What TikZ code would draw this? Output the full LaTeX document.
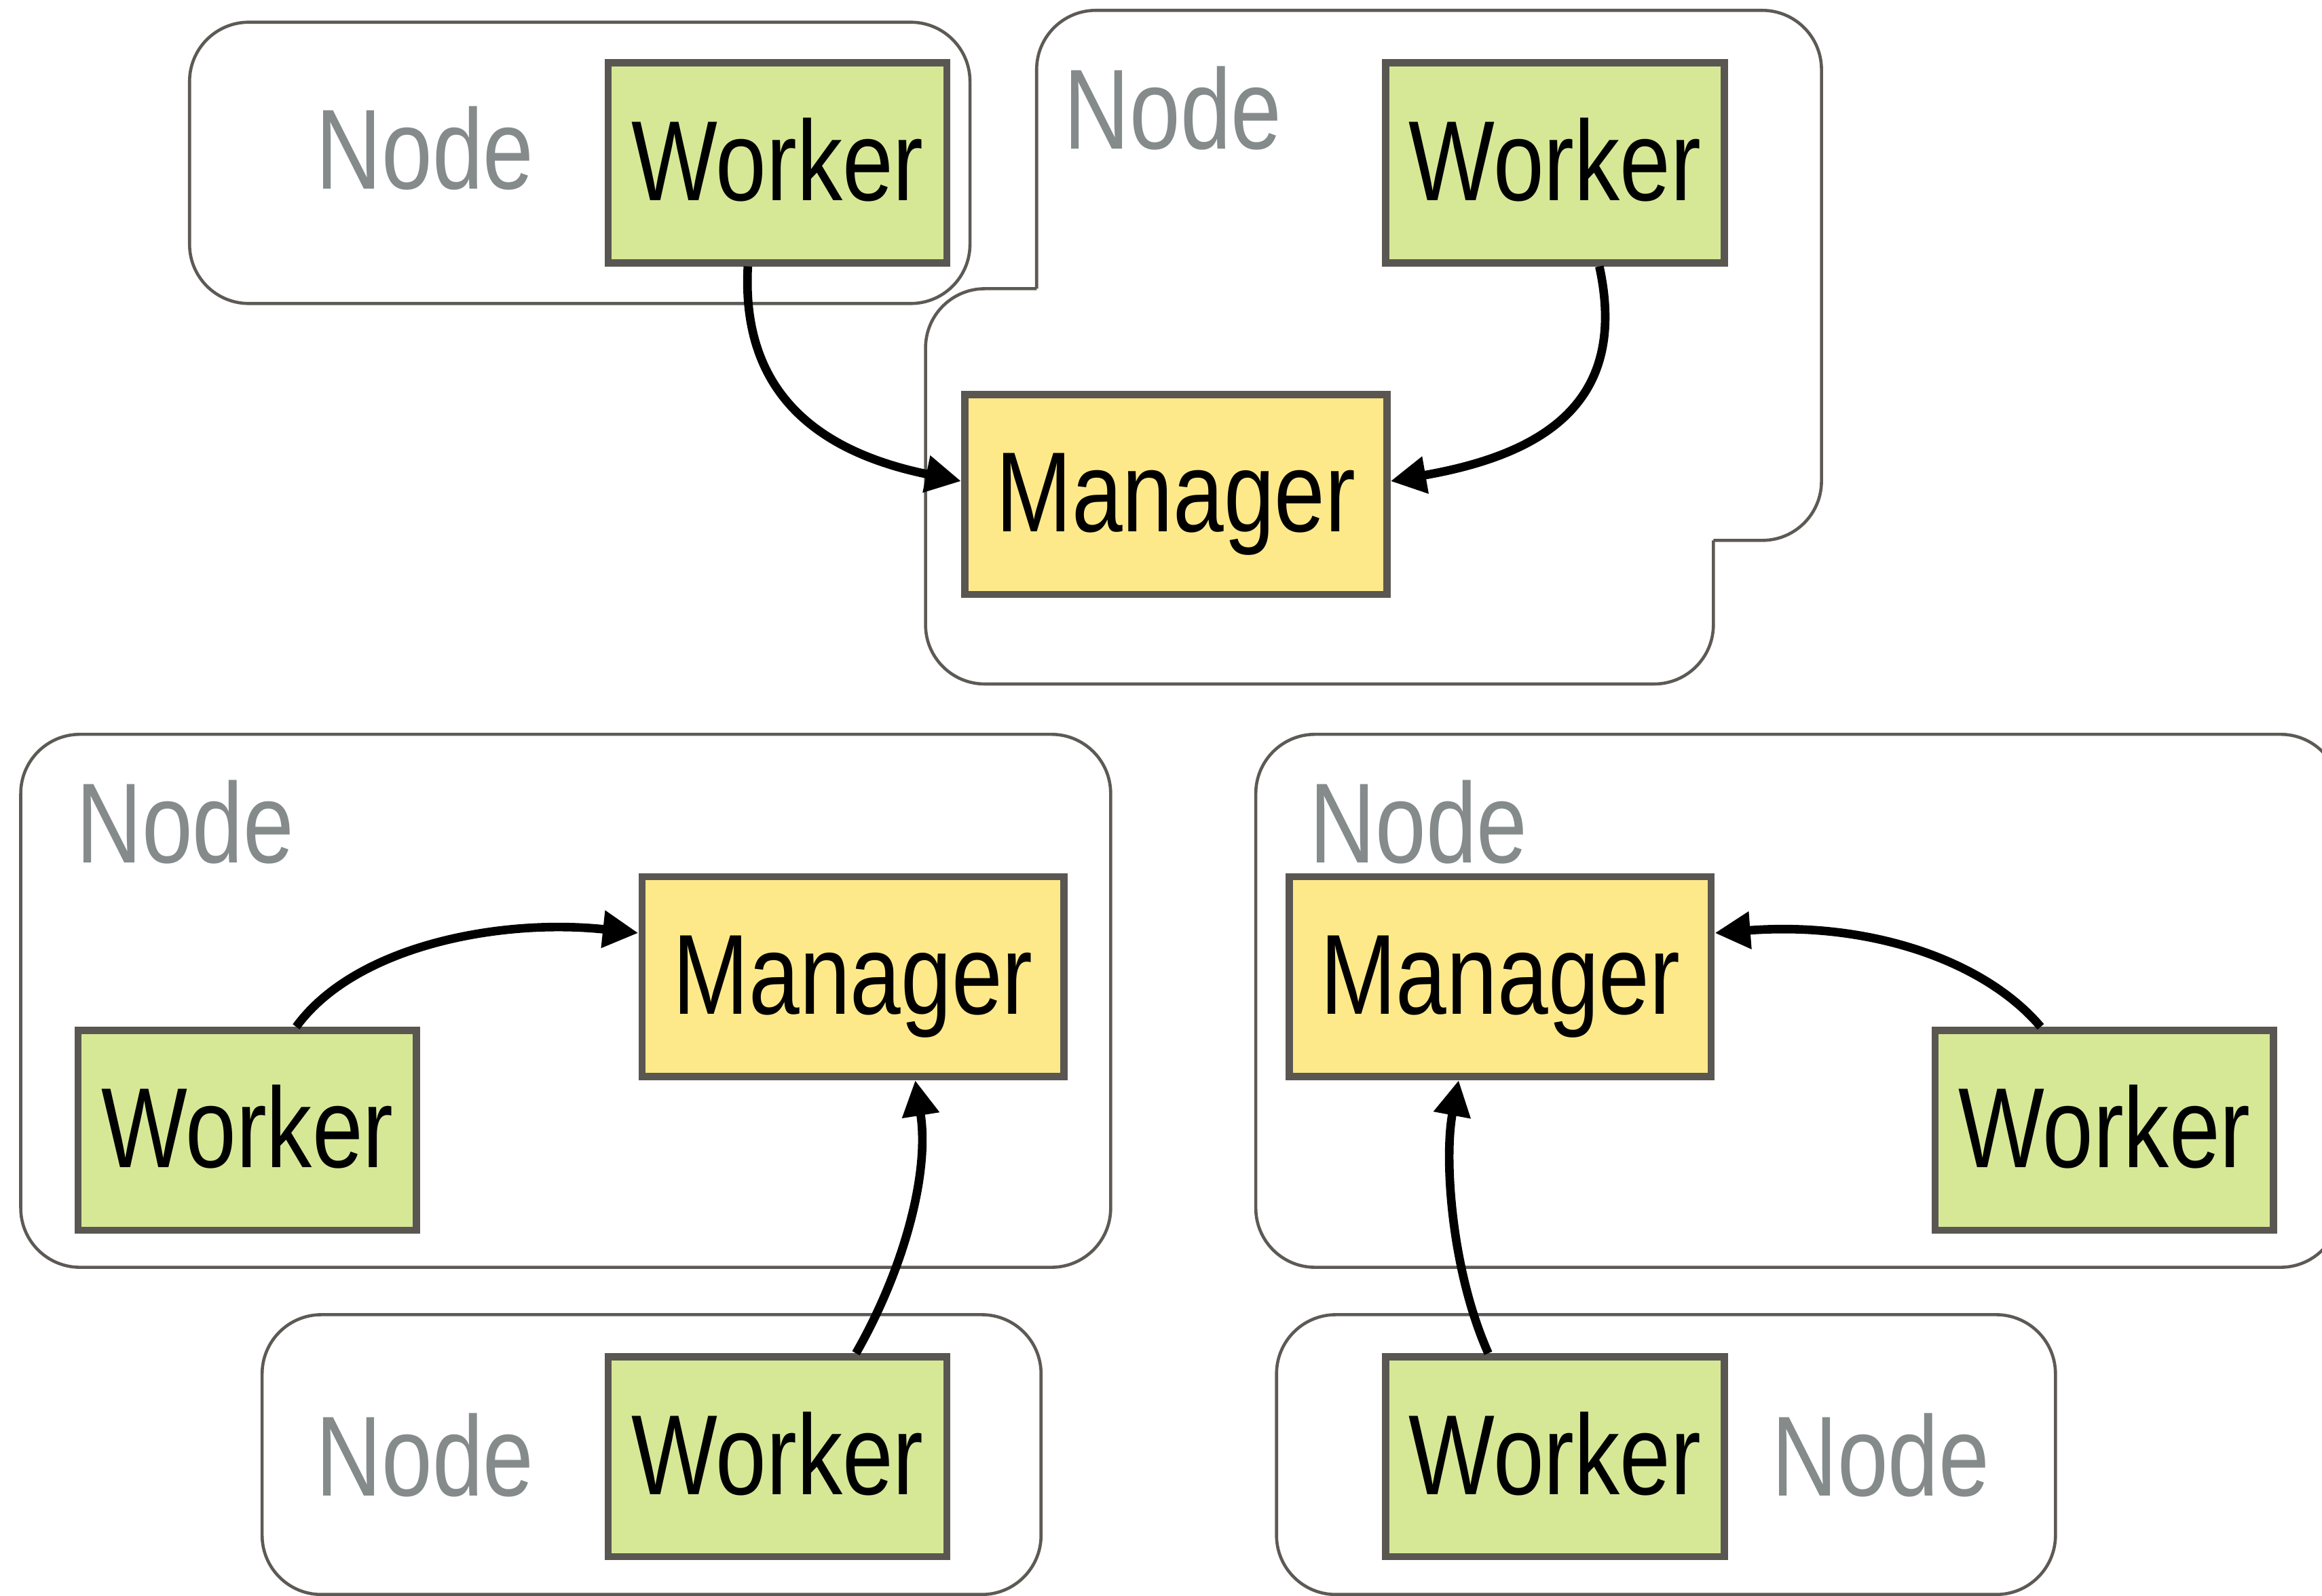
\documentclass[tikz,border=0pt]{standalone}
\usepackage{fontspec}
\setmainfont{Liberation Sans}[FakeStretch=0.8]
\usetikzlibrary{arrows.meta,calc}
\definecolor{wfill}{HTML}{D6E896}
\definecolor{mfill}{HTML}{FEE98A}
\definecolor{boxline}{HTML}{5A5752}
\definecolor{lblgray}{HTML}{858A8A}
\definecolor{outcol}{HTML}{5D5A55}
\newcommand\diagfont{\fontsize{43.8}{50}\selectfont}
\begin{document}
\begin{tikzpicture}[x=0.02cm,y=-0.02cm,
 box/.style={draw=boxline,line width=2.8pt,inner sep=0pt,text height=31.4pt,text depth=2.6pt,font=\diagfont},
 worker/.style={box,fill=wfill,minimum width=4.574cm,minimum height=2.70cm},
 manager/.style={box,fill=mfill,minimum width=5.70cm,minimum height=2.70cm},
 lbl/.style={text=lblgray,inner sep=0pt,text height=31.4pt,text depth=0pt,font=\diagfont},
 outl/.style={draw=outcol,line width=1.2pt,rounded corners=0.8cm},
 conn/.style={line width=3.3pt,-{Triangle[length=0.48cm,width=0.48cm]}}]
\useasboundingbox (0,0) rectangle (1568,1078);
\clip (0,0) rectangle (1568,1078);
% outlines
\draw[outl] (128,15) rectangle (655,205);
\draw[outl] (700,195) -- (700,7) -- (1230,7) -- (1230,365) -- (1157,365);
\draw[outl] (1157,365) -- (1157,462) -- (625,462) -- (625,195) -- (700,195);
\draw[outl] (14,496) rectangle (750,856);
\draw[outl] (177,888) rectangle (703,1077);
\draw[outl] (848,496) rectangle (1580,856);
\draw[outl] (862,888) rectangle (1388,1077);
% labels
\node[lbl] (nA) at (287,100) {Node};
\node[lbl] (nB) at (792,73) {Node};
\node[lbl] (nC) at (125,555) {Node};
\node[lbl] (nD) at (287,983) {Node};
\node[lbl] (nE) at (958,555) {Node};
\node[lbl] (nF) at (1270,983) {Node};
% boxes
\node[worker] (W1) at (525,110) {Worker};
\node[worker] (W2) at (1050,110) {Worker};
\node[manager] (M1) at (794,334) {Manager};
\node[manager] (M2) at (576,659.7) {Manager};
\node[worker] (W3) at (167,763.5) {Worker};
\node[worker] (W4) at (525,984) {Worker};
\node[manager] (M3) at (1013,659.7) {Manager};
\node[worker] (W5) at (1421,763.5) {Worker};
\node[worker] (W6) at (1050,984) {Worker};
% connectors
\draw[conn] ($(W1.south)+(-20,0)$) .. controls +(-5,92) and +(-88,-18) .. ($(M1.west)+(0,-9)$);
\draw[conn] ($(W2.south)+(30,0)$) .. controls +(20,92) and +(103,-18) .. ($(M1.east)+(0,-9)$);
\draw[conn] ($(W3.north)+(33,0)$) .. controls +(40,-55) and +(-93,-10) .. ($(M2.west)+(0,-29.5)$);
\draw[conn] ($(W4.north)+(53,0)$) .. controls +(32,-56) and +(10,63) .. ($(M2.south)+(42,0)$);
\draw[conn] ($(W5.north)+(-43,0)$) .. controls +(-38,-45) and +(104,-8) .. ($(M3.east)+(0,-29.5)$);
\draw[conn] ($(W6.north)+(-45,0)$) .. controls +(-25,-56) and +(-10,53) .. ($(M3.south)+(-28,0)$);
\end{tikzpicture}
\end{document}
